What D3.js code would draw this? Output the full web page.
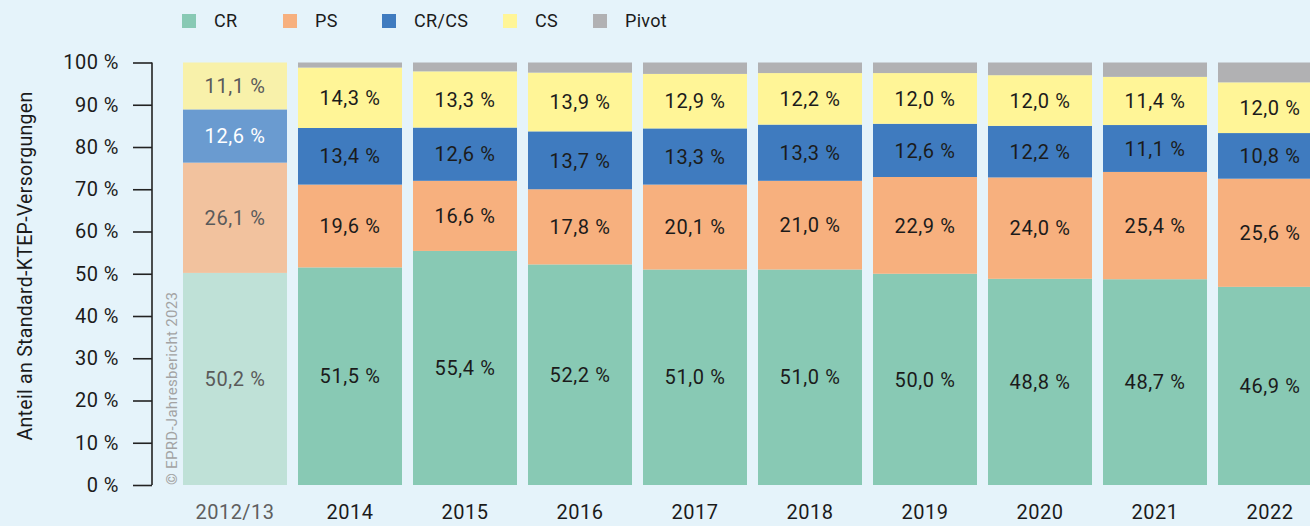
<!DOCTYPE html>
<html><head><meta charset="utf-8">
<script src="https://cdn.jsdelivr.net/npm/d3@7"></script>
<style>
html,body{margin:0;padding:0;background:#e5f3fa;}
svg{display:block;font-family:Roboto, "DejaVu Sans", sans-serif;}
</style></head>
<body>
<svg id="chart" width="1310" height="526"></svg>
<script>
const categories = ["2012/13","2014","2015","2016","2017","2018","2019","2020","2021","2022"];
const seriesNames = ["CR","PS","CR/CS","CS","Pivot"];
const CR    = [50.2, 51.5, 55.4, 52.2, 51.0, 51.0, 50.0, 48.8, 48.7, 46.9];
const PS    = [26.1, 19.6, 16.6, 17.8, 20.1, 21.0, 22.9, 24.0, 25.4, 25.6];
const CRCS  = [12.6, 13.4, 12.6, 13.7, 13.3, 13.3, 12.6, 12.2, 11.1, 10.8];
const CS    = [11.1, 14.3, 13.3, 13.9, 12.9, 12.2, 12.0, 12.0, 11.4, 12.0];
const Pivot = [0.0, 1.2, 2.1, 2.4, 2.7, 2.5, 2.5, 3.0, 3.4, 4.7];
const yTicks = [0,10,20,30,40,50,60,70,80,90,100];

const colors = ["#88c9b4","#f7b07e","#3f7bbf","#fff597","#b1b1b3"];
const fadedColors = ["#bfe1d7","#f2c29e","#6a9bd0","#f8f1aa","#d0d0d0"];
const labelColors = ["#1b1b1b","#1b1b1b","#1b1b1b","#1b1b1b","#1b1b1b"];
const fadedLabelColors = ["#5a5a5a","#5a5a5a","#ffffff","#5a5a5a","#5a5a5a"];

const rows = categories.map((c,i)=>({cat:c, CR:CR[i], PS:PS[i], "CR/CS":CRCS[i], CS:CS[i], Pivot:Pivot[i]}));
const stacked = d3.stack().keys(seriesNames)(rows);

const svg = d3.select("#chart");
const x = d3.scaleBand().domain(categories).range([177.5, 1327.5]).paddingInner(11/115).paddingOuter(11/230);
const y = d3.scaleLinear().domain([0,100]).range([485, 62.5]);
const fmt = v => d3.format(".1f")(v).replace(".", ",") + " %";

// bars
stacked.forEach((layer, si) => {
  const g = svg.append("g");
  g.selectAll("rect").data(layer).join("rect")
    .attr("x", d => x(d.data.cat))
    .attr("width", x.bandwidth())
    .attr("y", d => y(d[1]))
    .attr("height", d => Math.max(0, y(d[0]) - y(d[1])))
    .attr("fill", (d,i) => i === 0 ? fadedColors[si] : colors[si]);
  if (seriesNames[si] !== "Pivot") {
    g.selectAll("text").data(layer).join("text")
      .attr("x", d => x(d.data.cat) + x.bandwidth()/2)
      .attr("y", d => (y(d[0]) + y(d[1]))/2)
      .attr("dy", "0.36em")
      .attr("text-anchor", "middle")
      .attr("font-size", 20)
      .attr("letter-spacing", 0.6)
      .attr("fill", (d,i) => i === 0 ? fadedLabelColors[si] : labelColors[si])
      .text(d => fmt(d[1]-d[0]));
  }
});

// y axis
const yAxis = d3.axisLeft(y).tickValues(yTicks).tickSize(19).tickPadding(14).tickFormat(d => d + " %");
const ya = svg.append("g").attr("transform","translate(152,0)").call(yAxis);
ya.select(".domain").attr("stroke","#222").attr("stroke-width",1.6).attr("d","M0,"+y(100)+"V"+y(0));
ya.selectAll(".tick line").attr("stroke","#222").attr("stroke-width",1.6);
ya.selectAll(".tick text").attr("font-size",20).attr("letter-spacing",0.5).attr("fill","#1b1b1b").attr("font-family","Roboto, sans-serif");

// x axis labels
const xa = d3.axisBottom(x).tickSize(0).tickPadding(20);
const xg = svg.append("g").attr("transform","translate(0,485)").call(xa);
xg.select(".domain").remove();
xg.selectAll(".tick text").attr("font-size",20).attr("letter-spacing",0.5).attr("font-family","Roboto, sans-serif")
  .attr("fill", (d,i) => i === 0 ? "#5f5f5f" : "#1b1b1b");

// y title
svg.append("text")
  .attr("transform","translate(32,266) rotate(-90)")
  .attr("text-anchor","middle")
  .attr("font-size",19.5)
  .attr("letter-spacing",0.3)
  .attr("fill","#1b1b1b")
  .text("Anteil an Standard-KTEP-Versorgungen");

// copyright
svg.append("text")
  .attr("transform","translate(177,485) rotate(-90)")
  .attr("text-anchor","start")
  .attr("font-size",15)
  .attr("letter-spacing",0.3)
  .attr("fill","#a3a3a3")
  .text("© EPRD-Jahresbericht 2023");

// legend
const legendX = [182, 283, 382, 503, 593];
const lg = svg.append("g");
seriesNames.forEach((s,i) => {
  lg.append("rect").attr("x", legendX[i]).attr("y", 14).attr("width", 14).attr("height", 14).attr("fill", colors[i]);
  lg.append("text").attr("x", legendX[i] + 32).attr("y", 21).attr("dy","0.36em")
    .attr("font-size", 18).attr("letter-spacing",0.3).attr("fill","#1b1b1b").text(s);
});
</script>
</body></html>
